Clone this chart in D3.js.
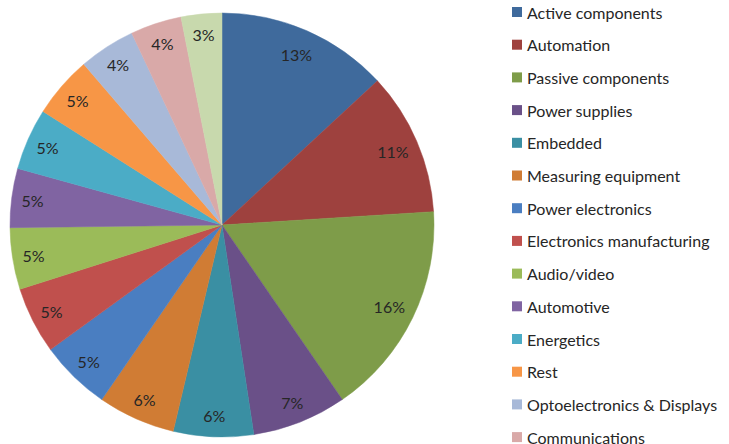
<!DOCTYPE html>
<html>
<head>
<meta charset="utf-8">
<script src="https://cdn.jsdelivr.net/npm/d3@7"></script>
<style>
  html, body { margin: 0; padding: 0; background: #fff; }
  svg { display: block; }
</style>
</head>
<body>
<svg id="chart" width="729" height="444"></svg>
<script>
const categories = [
  "Active components", "Automation", "Passive components", "Power supplies",
  "Embedded", "Measuring equipment", "Power electronics", "Electronics manufacturing",
  "Audio/video", "Automotive", "Energetics", "Rest",
  "Optoelectronics & Displays", "Communications", "Other"
];
const shares = [13.1, 10.9, 16.4, 7.2, 6.1, 5.9, 5.4, 5.1, 4.7, 4.5, 4.7, 4.7, 4.3, 3.9, 3.1];
const colors = [
  "#3F6A9C", "#9E413E", "#7E9C49", "#6A5088", "#3A8FA3", "#D07C34",
  "#4A7EC1", "#C0504D", "#9BBB59", "#8064A2", "#4BACC6", "#F79646",
  "#A8B9D8", "#D9A9A8", "#C8D9AD"
];

const data = categories.map((c, i) => ({ name: c, value: shares[i], color: colors[i] }));
const total = d3.sum(shares);
const pctText = d => Math.round(d.value / total * 100) + "%";

const svg = d3.select("#chart");
const cx = 222, cy = 225, R = 212;

const pie = d3.pie().value(d => d.value).sort(null);
const arc = d3.arc().innerRadius(0).outerRadius(R);

const g = svg.append("g").attr("transform", `translate(${cx},${cy})`);
const arcs = pie(data);

g.selectAll("path.slice")
  .data(arcs)
  .join("path")
  .attr("class", "slice")
  .attr("d", arc)
  .attr("fill", d => d.data.color)
  .attr("stroke", d => d.data.color)
  .attr("stroke-width", 0.5);

g.selectAll("text.lbl")
  .data(arcs)
  .join("text")
  .attr("class", "lbl")
  .attr("transform", d => {
    const t = pctText(d.data);
    const lr = t.length > 2 ? 186 : 191;
    const c = d3.arc().innerRadius(lr).outerRadius(lr).centroid(d);
    return `translate(${c})`;
  })
  .attr("text-anchor", "middle")
  .attr("dominant-baseline", "central")
  .style("font-family", "Lato, 'Open Sans', sans-serif")
  .style("font-size", "16px")
  .style("fill", "#262626")
  .text(d => pctText(d.data));

// Legend
const legendY = d3.scaleLinear().domain([0, 1]).range([12, 44.7]);
const legend = svg.append("g");
const items = legend.selectAll("g.item")
  .data(data)
  .join("g")
  .attr("class", "item")
  .attr("transform", (d, i) => `translate(512,${legendY(i)})`);

items.append("rect")
  .attr("x", 0).attr("y", -5)
  .attr("width", 10).attr("height", 10)
  .attr("fill", d => d.color);

items.append("text")
  .attr("x", 15).attr("y", 0)
  .attr("dominant-baseline", "central")
  .style("font-family", "Lato, 'Open Sans', sans-serif")
  .style("font-size", "16px")
  .style("fill", "#262626")
  .text(d => d.name);
</script>
</body>
</html>
